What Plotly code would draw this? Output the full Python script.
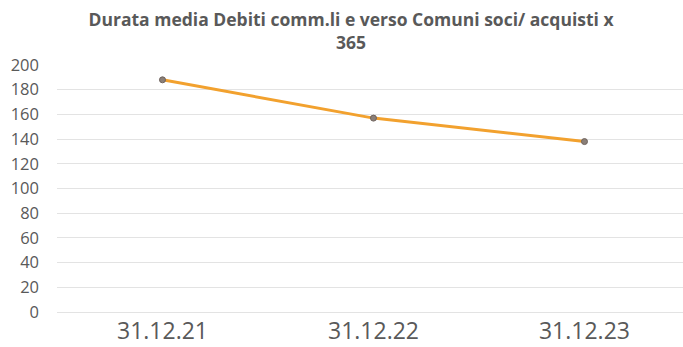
import plotly.graph_objects as go

# Date di chiusura e durata media (giorni)
periodi = ["31.12.21", "31.12.22", "31.12.23"]
durata_media = [188, 157, 138]
y_ticks = [0, 20, 40, 60, 80, 100, 120, 140, 160, 180, 200]

fig = go.Figure(
    go.Scatter(
        x=periodi,
        y=durata_media,
        mode="lines+markers",
        line=dict(color="#F2A12E", width=3),
        marker=dict(size=6, color="#8A7F78", line=dict(color="#6E625C", width=1)),
        hoverinfo="x+y",
    )
)

fig.update_layout(
    width=683,
    height=347,
    paper_bgcolor="white",
    plot_bgcolor="white",
    showlegend=False,
    margin=dict(l=57, r=0, t=65, b=35),
    title=dict(
        text="<b>Durata media Debiti comm.li e verso Comuni soci/ acquisti x<br>365</b>",
        x=0.514,
        xref="container",
        xanchor="center",
        y=1 - 26 / 347,
        yref="container",
        yanchor="top",
        font=dict(family="Open Sans", size=17.5, color="#595959"),
    ),
    xaxis=dict(
        type="category",
        range=[-0.5, 2.467],
        showgrid=False,
        showline=False,
        zeroline=False,
        ticks="",
        ticklabelstandoff=3,
        tickfont=dict(family="Open Sans", size=23, color="#595959"),
        automargin=False,
    ),
    yaxis=dict(
        range=[0, 200],
        tickvals=y_ticks,
        showgrid=True,
        gridcolor="#E3E3E3",
        gridwidth=1,
        zeroline=True,
        zerolinecolor="#E3E3E3",
        zerolinewidth=1,
        showline=False,
        ticks="",
        ticklabelstandoff=17,
        tickfont=dict(family="Open Sans", size=16.5, color="#595959"),
        automargin=False,
    ),
)

fig.write_html("out.html")
